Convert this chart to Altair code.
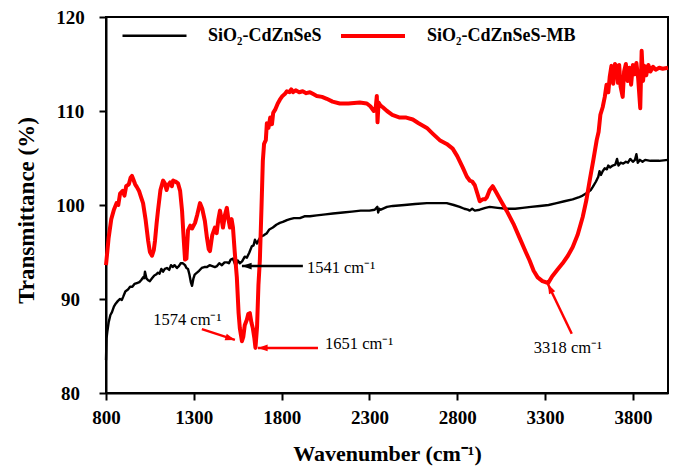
import altair as alt
import pandas as pd

# --- FTIR spectra: wavenumber (cm-1) and transmittance (%) ---
wn_base = [800, 803, 808, 815, 825, 834, 845, 855, 868, 880, 890, 897, 910, 925, 937, 950, 962, 976, 990,
           1000, 1011, 1017, 1022, 1030, 1040, 1050, 1062, 1075, 1085, 1096, 1105, 1115, 1125, 1135, 1147,
           1160, 1170, 1180, 1190, 1204, 1215, 1225, 1238, 1250, 1258, 1267, 1275, 1283, 1290, 1298, 1305,
           1318, 1330, 1345, 1360, 1375, 1390, 1405, 1420, 1432, 1445, 1460, 1475, 1489, 1500, 1510, 1523,
           1535, 1541, 1550, 1562, 1575, 1590, 1602, 1615, 1630, 1640, 1648, 1660, 1670, 1680, 1690, 1700,
           1716, 1730, 1750, 1770, 1790, 1807, 1830, 1847, 1870, 1904, 1930, 1961, 2000, 2050, 2092, 2149,
           2200, 2250, 2300, 2330, 2345, 2350, 2356, 2365, 2400, 2433, 2500, 2560, 2627, 2700, 2740, 2780,
           2814, 2840, 2860, 2871, 2885, 2900, 2928, 2960, 2985, 3030, 3081, 3130, 3172, 3220, 3270, 3320,
           3366, 3410, 3457, 3490, 3514, 3540, 3560, 3571, 3590, 3603, 3610, 3618, 3628, 3640, 3652, 3660,
           3670, 3685, 3700, 3710, 3718, 3730, 3745, 3760, 3772, 3785, 3800, 3812, 3820, 3828, 3840, 3855,
           3870, 3900, 3950, 4000]
t_base = [83.5, 85.8, 86.6, 87.5, 88.3, 88.6, 89.2, 89.5, 89.8, 90.0, 89.9, 90.2, 90.8, 91.0, 91.3, 91.3,
          91.6, 91.7, 91.8, 92.0, 92.3, 92.2, 92.9, 92.2, 92.0, 91.9, 92.2, 92.5, 92.6, 92.8, 92.7, 93.2,
          92.9, 93.2, 93.3, 93.1, 93.6, 93.4, 93.6, 93.3, 93.5, 93.8, 93.8, 93.6, 93.3, 93.2, 92.6, 91.8,
          91.4, 92.2, 92.6, 92.8, 93.0, 93.3, 93.4, 93.4, 93.6, 93.5, 93.4, 93.5, 93.8, 93.6, 93.9, 93.9,
          93.8, 94.2, 94.3, 93.7, 93.6, 94.1, 93.8, 94.0, 94.5, 94.4, 94.9, 95.6, 95.7, 96.3, 95.9, 96.3,
          96.6, 96.7, 96.8, 97.0, 97.4, 97.6, 97.9, 98.1, 98.2, 98.4, 98.5, 98.6, 98.6, 98.8, 98.8, 98.9,
          99.0, 99.1, 99.2, 99.3, 99.4, 99.4, 99.5, 99.8, 99.2, 99.6, 99.5, 99.8, 99.9, 100.0, 100.1, 100.2,
          100.2, 100.2, 100.0, 99.8, 99.6, 99.5, 99.4, 99.6, 99.4, 99.5, 99.7, 99.8, 99.7, 99.6, 99.6, 99.7,
          99.8, 99.9, 100.0, 100.2, 100.4, 100.6, 100.8, 101.0, 101.3, 101.6, 101.9, 102.5, 103.0, 103.6,
          103.2, 103.6, 103.9, 103.8, 104.2, 104.0, 104.2, 104.3, 104.9, 104.2, 104.5, 104.4, 104.6, 104.5,
          104.9, 104.6, 104.8, 105.4, 104.5, 104.8, 104.6, 104.8, 104.7, 104.7, 104.8]

wn_mb = [800, 815, 830, 845, 860, 870, 880, 895, 905, 915, 930, 940, 948, 958, 966, 976, 988, 1000, 1011,
         1025, 1040, 1050, 1062, 1072, 1079, 1088, 1096, 1110, 1125, 1135, 1145, 1153, 1165, 1175, 1182,
         1195, 1210, 1222, 1233, 1242, 1250, 1258, 1267, 1280, 1290, 1307, 1320, 1335, 1348, 1363, 1375,
         1385, 1392, 1405, 1420, 1430, 1440, 1449, 1458, 1466, 1478, 1488, 1496, 1506, 1515, 1523, 1533,
         1545, 1555, 1562, 1574, 1582, 1590, 1602, 1610, 1619, 1628, 1636, 1645, 1651, 1660, 1668, 1676,
         1685, 1693, 1700, 1710, 1716, 1725, 1735, 1745, 1752, 1765, 1778, 1790, 1805, 1818, 1830, 1845,
         1855, 1865, 1880, 1900, 1920, 1940, 1961, 1980, 2000, 2030, 2057, 2090, 2131, 2180, 2245, 2285,
         2305, 2325, 2336, 2342, 2346, 2352, 2362, 2376, 2400, 2430, 2473, 2510, 2547, 2580, 2627, 2660,
         2700, 2740, 2774, 2800, 2831, 2855, 2871, 2885, 2900, 2915, 2928, 2945, 2958, 2968, 2985, 3002,
         3020, 3050, 3081, 3120, 3155, 3190, 3212, 3235, 3258, 3285, 3318, 3340, 3370, 3400, 3430, 3457,
         3485, 3514, 3535, 3554, 3575, 3594, 3605, 3615, 3628, 3640, 3650, 3660, 3668, 3678, 3688, 3698,
         3708, 3715, 3722, 3730, 3742, 3750, 3760, 3770, 3780, 3790, 3800, 3810, 3820, 3830, 3842, 3850,
         3858, 3866, 3876, 3888, 3900, 3915, 3930, 3950, 3970, 4000]
t_mb = [93.6, 96.5, 98.5, 99.5, 100.2, 100.0, 101.2, 101.5, 101.0, 102.0, 102.2, 102.9, 103.1, 102.6,
        102.2, 101.9, 101.5, 100.8, 100.2, 98.5, 96.2, 95.0, 94.6, 95.2, 96.2, 98.0, 99.4, 101.6, 102.6,
        102.3, 101.6, 102.1, 102.4, 102.0, 102.6, 102.5, 102.3, 101.5, 99.4, 96.5, 94.2, 94.3, 97.3, 97.8,
        97.5, 98.1, 99.0, 100.2, 99.6, 98.3, 96.5, 95.3, 95.1, 96.8, 97.6, 97.0, 98.5, 99.4, 98.5, 97.6,
        99.0, 99.7, 98.6, 97.6, 98.5, 97.6, 95.0, 92.3, 88.5, 86.9, 85.5, 86.0, 87.2, 87.8, 88.4, 88.5,
        87.5, 86.9, 85.8, 84.8, 87.0, 91.5, 94.1, 99.5, 104.7, 106.5, 106.9, 108.7, 108.2, 109.3, 108.6,
        109.8, 110.2, 110.8, 111.2, 111.6, 111.8, 112.1, 112.0, 112.3, 112.0, 112.2, 112.0, 112.1, 111.9,
        112.0, 111.8, 111.6, 111.5, 111.3, 111.0, 110.8, 110.8, 110.9, 110.8, 110.5, 110.0, 110.4, 111.6,
        108.8, 110.9, 110.6, 110.4, 110.0, 109.6, 109.3, 109.3, 109.1, 108.7, 108.2, 107.6, 106.9, 106.5,
        106.0, 105.2, 104.0, 103.0, 102.6, 102.5, 102.1, 101.2, 100.4, 100.6, 100.6, 100.8, 101.6, 102.0,
        101.4, 100.4, 99.4, 98.0, 96.5, 95.0, 94.1, 93.0, 92.3, 91.9, 91.7, 92.4, 93.1, 93.8, 94.6, 95.5,
        96.8, 98.7, 100.5, 102.6, 104.8, 106.9, 107.8, 109.6, 110.4, 111.5, 112.8, 112.0, 113.6, 114.8,
        112.9, 115.0, 114.7, 113.0, 114.9, 112.6, 111.5, 114.2, 115.0, 113.2, 114.6, 112.8, 114.9, 113.9,
        115.1, 113.5, 110.3, 116.4, 113.2, 114.8, 113.8, 114.9, 114.2, 114.7, 114.4, 114.6, 114.5, 114.6]

series_names = ["SiO\u2082-CdZnSeS", "SiO\u2082-CdZnSeS-MB"]
series_colors = ["#000000", "#FF0000"]
series_widths = [2.4, 4.0]

# --- peak annotations (arrow tail -> head, label) ---
arrow_x = [1921, 1346, 2007, 3452]
arrow_y = [93.5, 86.8, 84.8, 86.3]
head_x = [1574, 1534, 1665, 3316]
head_y = [93.5, 85.65, 84.8, 91.6]
head_angle = [270, 108, 270, 334]
arrow_color = ["black", "red", "red", "red"]

label_left_text = ["1541 cm\u207b\u00b9", "1651 cm\u207b\u00b9"]
label_left_x = [1944, 2047]
label_left_y = [93.3, 85.2]
label_mid_text = ["1574 cm\u207b\u00b9", "3318 cm\u207b\u00b9"]
label_mid_x = [1263, 3430]
label_mid_y = [87.8, 84.8]

FONT = "Liberation Serif"

spectra = pd.concat([
    pd.DataFrame({"wn": wn_base, "t": t_base, "sample": series_names[0], "order": range(len(wn_base))}),
    pd.DataFrame({"wn": wn_mb, "t": t_mb, "sample": series_names[1], "order": range(len(wn_mb))}),
])
arrows = pd.DataFrame({"x": arrow_x, "y": arrow_y, "x2": head_x, "y2": head_y,
                       "angle": head_angle, "c": arrow_color})
labels_left = pd.DataFrame({"x": label_left_x, "y": label_left_y, "label": label_left_text})
labels_mid = pd.DataFrame({"x": label_mid_x, "y": label_mid_y, "label": label_mid_text})

x_scale = alt.Scale(domain=[800, 4000], nice=False, zero=False)
y_scale = alt.Scale(domain=[80, 120], nice=False, zero=False)

x_axis = alt.Axis(values=[800, 1300, 1800, 2300, 2800, 3300, 3800], format="d",
                  title="Wavenumber (cm\u207b\u00b9)", titleY=67, titleBaseline="alphabetic",
                  labelPadding=8, labelFlush=False, labelOverlap=False)
y_axis = alt.Axis(values=[80, 90, 100, 110, 120], title="Transmittance (%)",
                  labelAlign="center", labelPadding=29, labelFlush=False,
                  titleX=-80, titleY=193, titleBaseline="middle", titleFontSize=23)

lines = alt.Chart(spectra).mark_line(strokeJoin="round").encode(
    x=alt.X("wn:Q", scale=x_scale, axis=x_axis),
    y=alt.Y("t:Q", scale=y_scale, axis=y_axis),
    color=alt.Color("sample:N", scale=alt.Scale(domain=series_names, range=series_colors),
                    legend=alt.Legend(title=None, orient="none", legendX=15, legendY=-15,
                                      direction="horizontal", symbolType="stroke",
                                      symbolSize=4096, symbolStrokeWidth=3.2,
                                      labelFont=FONT, labelFontSize=18, labelFontWeight="bold",
                                      labelColor="black", labelOffset=20, columnPadding=11)),
    strokeWidth=alt.StrokeWidth("sample:N", scale=alt.Scale(domain=series_names, range=series_widths),
                                legend=None),
    order="order:Q",
)

arrow_lines = alt.Chart(arrows).mark_rule(strokeWidth=2.5).encode(
    x="x:Q", y="y:Q", x2="x2:Q", y2="y2:Q",
    color=alt.Color("c:N", scale=None),
)
arrow_heads = alt.Chart(arrows).mark_point(
    shape="M0,0L-0.6,1.7L0.6,1.7Z", filled=True, size=130, opacity=1
).encode(
    x=alt.X("x2:Q"), y=alt.Y("y2:Q"),
    angle=alt.Angle("angle:Q", scale=None),
    color=alt.Color("c:N", scale=None),
)
text_left = alt.Chart(labels_left).mark_text(
    align="left", baseline="middle", font=FONT, fontSize=16.5, color="black"
).encode(x="x:Q", y="y:Q", text="label:N")
text_mid = alt.Chart(labels_mid).mark_text(
    align="center", baseline="middle", font=FONT, fontSize=16.5, color="black"
).encode(x="x:Q", y="y:Q", text="label:N")

chart = alt.layer(lines, arrow_lines, arrow_heads, text_left, text_mid).properties(
    width=562, height=376,
    autosize=alt.AutoSizeParams(type="none"),
    padding={"left": 106, "top": 17, "right": 7, "bottom": 74},
    background="white",
).configure_view(
    stroke="black", strokeWidth=2
).configure_axis(
    grid=False, domainColor="black", domainWidth=2, tickColor="black", tickWidth=2, tickSize=7,
    labelFont=FONT, labelFontSize=19, labelFontWeight="bold", labelColor="black",
    titleFont=FONT, titleFontSize=22, titleFontWeight="bold", titleColor="black",
)

chart.save("out.html", embed_options={"renderer": "svg", "actions": False})
